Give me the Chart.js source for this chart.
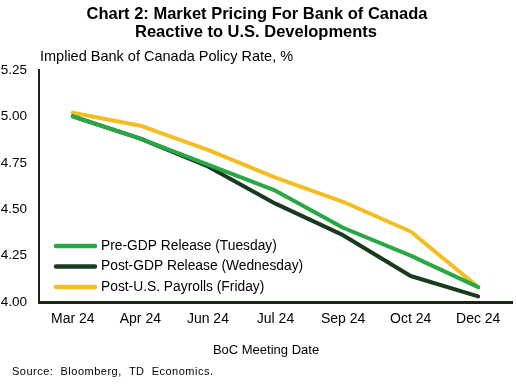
<!DOCTYPE html>
<html>
<head>
<meta charset="utf-8">
<script src="https://cdn.jsdelivr.net/npm/chart.js@4"></script>
<style>
  html, body { margin: 0; padding: 0; background: #fff; }
  #wrap { width: 516px; height: 385px; }
</style>
</head>
<body>
<div id="wrap"><canvas id="chart" width="516" height="385"></canvas></div>
<script>
const meetings = ["Mar 24", "Apr 24", "Jun 24", "Jul 24", "Sep 24", "Oct 24", "Dec 24"];
const preGdp = [5.00, 4.88, 4.74, 4.60, 4.40, 4.25, 4.08];
const postGdp = [5.00, 4.88, 4.73, 4.53, 4.36, 4.14, 4.03];
const postPayrolls = [5.02, 4.95, 4.82, 4.67, 4.54, 4.38, 4.08];
const yTicks = [4.00, 4.25, 4.50, 4.75, 5.00, 5.25];

const FONT = "'Liberation Sans', Arial, sans-serif";

// titles, legend and notes drawn on top of the chart
const textPlugin = {
    id: "texts",
    afterDraw(chart) {
        const ctx = chart.ctx;
        ctx.save();
        ctx.fillStyle = "#000";
        ctx.textBaseline = "middle";

        ctx.font = "bold 16.5px " + FONT;
        ctx.textAlign = "center";
        ctx.fillText("Chart 2: Market Pricing For Bank of Canada", 257, 14);
        ctx.fillText("Reactive to U.S. Developments", 256, 32);

        ctx.textAlign = "left";
        ctx.font = "14.5px " + FONT;
        ctx.fillText("Implied Bank of Canada Policy Rate, %", 40, 57);

        ctx.textAlign = "center";
        ctx.font = "13px " + FONT;
        ctx.fillText("BoC Meeting Date", 266, 350);

        ctx.textAlign = "left";
        ctx.font = "11px " + FONT;
        ctx.letterSpacing = "0.5px";
        ctx.fillText("Source:  Bloomberg,  TD  Economics.", 12, 372);
        ctx.letterSpacing = "0px";

        // legend
        ctx.font = "13.8px " + FONT;
        chart.data.datasets.forEach((ds, i) => {
            const y = 246 + i * 20.5;
            ctx.strokeStyle = ds.borderColor;
            ctx.lineWidth = 4.5;
            ctx.lineCap = "round";
            ctx.beginPath();
            ctx.moveTo(56, y);
            ctx.lineTo(95, y);
            ctx.stroke();
            ctx.fillText(ds.label, 101, y);
        });
        ctx.restore();
    }
};

new Chart(document.getElementById("chart"), {
    type: "line",
    data: {
        labels: meetings,
        datasets: [
            { label: "Pre-GDP Release (Tuesday)", data: preGdp, borderColor: "#27a844" },
            { label: "Post-GDP Release (Wednesday)", data: postGdp, borderColor: "#183a1e" },
            { label: "Post-U.S. Payrolls (Friday)", data: postPayrolls, borderColor: "#f4bd22" }
        ]
    },
    options: {
        responsive: false,
        animation: false,
        layout: { padding: { top: 70, right: 4, left: 0, bottom: 0 } },
        elements: {
            line: { borderWidth: 4, tension: 0, borderCapStyle: "round", borderJoinStyle: "round" },
            point: { radius: 0 }
        },
        plugins: { legend: { display: false }, tooltip: { enabled: false } },
        scales: {
            x: {
                offset: true,
                grid: { display: false, drawTicks: false },
                border: { color: "#1c2414", width: 3 },
                ticks: { color: "#000", font: { family: FONT, size: 14 }, padding: 9, maxRotation: 0, autoSkip: false },
                afterFit: s => { s.height = 83; }
            },
            y: {
                min: 4, max: 5.25,
                grid: { display: false, drawTicks: false },
                border: { color: "#1c2414", width: 2 },
                afterBuildTicks: s => { s.ticks = yTicks.map(v => ({ value: v })); },
                ticks: { color: "#000", font: { family: FONT, size: 13.5 }, padding: 12, callback: v => Number(v).toFixed(2) },
                afterFit: s => { s.width = 39; }
            }
        }
    },
    plugins: [textPlugin]
});
</script>
</body>
</html>
